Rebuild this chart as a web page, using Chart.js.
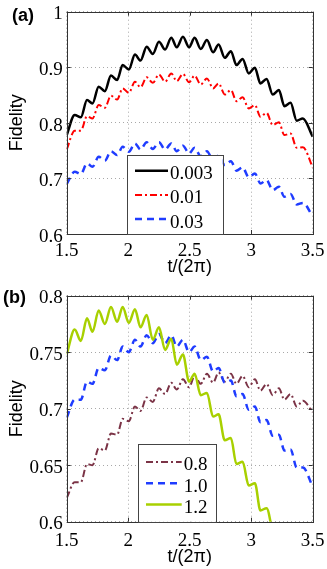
<!DOCTYPE html>
<html>
<head>
<meta charset="utf-8">
<script src="https://cdn.jsdelivr.net/npm/chart.js@4/dist/chart.umd.min.js"></script>
<style>
  html, body { margin: 0; padding: 0; background: #fff; }
  #wrap { position: relative; width: 327px; height: 569px; overflow: hidden; }
  .panel { position: absolute; left: 0; width: 327px; }
  #pa { top: 0; height: 284px; }
  #pb { top: 284px; height: 285px; }
  .tag { position: absolute; font: bold 18px 'Liberation Sans', Arial, sans-serif; line-height: 18px; color: #000; }
</style>
</head>
<body>
<div id="wrap">
  <div class="panel" id="pa"><canvas id="chartA"></canvas></div>
  <div class="panel" id="pb"><canvas id="chartB"></canvas></div>
  <div class="tag" style="left:12px;top:6px">(a)</div>
  <div class="tag" style="left:3px;top:288px">(b)</div>
</div>
<script>
// time axis, t/(2pi): crests and dips of the fast oscillation
const tGrid = [1.5, 1.565, 1.615, 1.665, 1.71, 1.76, 1.81, 1.86, 1.91, 1.955, 2.005,
  2.055, 2.1, 2.15, 2.2, 2.25, 2.3, 2.35, 2.395, 2.445, 2.495,
  2.54, 2.59, 2.64, 2.69, 2.735, 2.785, 2.835, 2.88, 2.93, 2.98,
  3.03, 3.075, 3.125, 3.175, 3.225, 3.27, 3.32, 3.37, 3.42, 3.5];

// panel (a)
const fidA_003 = [0.778, 0.814, 0.810, 0.841, 0.835, 0.865, 0.857, 0.885, 0.877, 0.904, 0.896,
  0.923, 0.912, 0.937, 0.924, 0.946, 0.932, 0.953, 0.936, 0.955, 0.936,
  0.953, 0.933, 0.949, 0.927, 0.941, 0.917, 0.929, 0.904, 0.915, 0.889,
  0.899, 0.871, 0.879, 0.851, 0.859, 0.830, 0.836, 0.804, 0.808, 0.775];
const fidA_001 = [0.752, 0.786, 0.786, 0.812, 0.808, 0.832, 0.827, 0.849, 0.842, 0.862, 0.854,
  0.874, 0.864, 0.882, 0.872, 0.887, 0.874, 0.889, 0.875, 0.888, 0.873,
  0.885, 0.869, 0.880, 0.862, 0.871, 0.851, 0.859, 0.839, 0.846, 0.826,
  0.832, 0.811, 0.818, 0.796, 0.801, 0.778, 0.781, 0.755, 0.756, 0.720];
const fidA_03 = [0.690, 0.712, 0.708, 0.727, 0.721, 0.739, 0.732, 0.749, 0.742, 0.757, 0.748,
  0.763, 0.752, 0.765, 0.753, 0.765, 0.752, 0.763, 0.749, 0.759, 0.745,
  0.755, 0.740, 0.749, 0.733, 0.741, 0.724, 0.731, 0.714, 0.720, 0.702,
  0.709, 0.691, 0.697, 0.679, 0.685, 0.667, 0.672, 0.653, 0.656, 0.632];

// panel (b)
const fidB_08 = [0.621, 0.635, 0.635, 0.651, 0.650, 0.665, 0.663, 0.678, 0.677, 0.691, 0.689,
  0.702, 0.698, 0.710, 0.706, 0.718, 0.713, 0.723, 0.717, 0.726, 0.719,
  0.729, 0.722, 0.731, 0.723, 0.732, 0.724, 0.731, 0.722, 0.729, 0.719,
  0.726, 0.716, 0.722, 0.712, 0.718, 0.708, 0.713, 0.702, 0.707, 0.697];
const fidB_10 = [0.692, 0.708, 0.708, 0.724, 0.722, 0.736, 0.734, 0.747, 0.743, 0.755, 0.750,
  0.761, 0.755, 0.765, 0.758, 0.766, 0.758, 0.765, 0.755, 0.761, 0.750,
  0.755, 0.743, 0.746, 0.733, 0.736, 0.723, 0.725, 0.711, 0.713, 0.699,
  0.702, 0.688, 0.690, 0.676, 0.677, 0.663, 0.664, 0.648, 0.648, 0.631];
const fidB_12 = [0.748, 0.770, 0.760, 0.780, 0.768, 0.787, 0.775, 0.790, 0.777, 0.790, 0.776,
  0.788, 0.772, 0.783, 0.761, 0.772, 0.752, 0.762, 0.739, 0.748, 0.724,
  0.731, 0.712, 0.714, 0.693, 0.695, 0.672, 0.674, 0.651, 0.653, 0.632,
  0.634, 0.610, 0.612, 0.590];

const xTicks = [1.5, 2, 2.5, 3, 3.5];
const xTickLabels = ['1.5', '2', '2.5', '3', '3.5'];
const yTicksA = [0.6, 0.7, 0.8, 0.9, 1.0];
const yTickLabelsA = ['0.6', '0.7', '0.8', '0.9', '1'];
const yTicksB = [0.6, 0.65, 0.7, 0.75, 0.8];
const yTickLabelsB = ['0.6', '0.65', '0.7', '0.75', '0.8'];

const pts = vals => vals.map((v, i) => ({ x: tGrid[i], y: v }));

const serif = "'Liberation Serif'";
const sans = "'Liberation Sans'";
Chart.defaults.font.family = serif;
Chart.defaults.color = '#000';

// MATLAB style box with inward ticks
const framePlugin = {
    id: 'frame',
    afterDatasetsDraw(chart) {
        const { ctx, chartArea: a, scales: { x, y } } = chart;
        ctx.save();
        ctx.strokeStyle = '#333';
        ctx.lineWidth = 1;
        ctx.beginPath();
        x.ticks.forEach(t => {
            const px = Math.round(x.getPixelForValue(t.value)) + 0.5;
            ctx.moveTo(px, a.bottom); ctx.lineTo(px, a.bottom - 4);
            ctx.moveTo(px, a.top); ctx.lineTo(px, a.top + 4);
        });
        y.ticks.forEach(t => {
            const py = Math.round(y.getPixelForValue(t.value)) + 0.5;
            ctx.moveTo(a.left, py); ctx.lineTo(a.left + 4, py);
            ctx.moveTo(a.right, py); ctx.lineTo(a.right - 4, py);
        });
        ctx.stroke();
        ctx.strokeRect(Math.round(a.left) + 0.5, Math.round(a.top) + 0.5,
            Math.round(a.width), Math.round(a.height));
        ctx.restore();
    }
};

// legend box drawn inside the axes
const boxLegend = {
    id: 'boxLegend',
    afterDraw(chart, args, o) {
        const ctx = chart.ctx;
        ctx.save();
        ctx.fillStyle = '#fff';
        ctx.fillRect(o.left, o.top, o.width, o.height);
        ctx.strokeStyle = '#444';
        ctx.lineWidth = 1;
        ctx.strokeRect(Math.round(o.left) + 0.5, Math.round(o.top) + 0.5, Math.round(o.width), Math.round(o.height));
        ctx.font = '19px ' + serif;
        ctx.textBaseline = 'middle';
        chart.data.datasets.forEach((ds, i) => {
            const yy = o.top + o.firstRow + i * o.rowGap;
            ctx.strokeStyle = ds.borderColor;
            ctx.lineWidth = ds.borderWidth;
            ctx.setLineDash(ds.borderDash || []);
            ctx.beginPath();
            ctx.moveTo(o.left + o.sampleX, yy);
            ctx.lineTo(o.left + o.sampleX + o.sampleLen, yy);
            ctx.stroke();
            ctx.setLineDash([]);
            ctx.fillStyle = '#000';
            ctx.fillText(ds.label, o.left + o.sampleX + o.sampleLen + 2, yy + 3.5);
        });
        ctx.restore();
    }
};

function makeScales(yMin, yMax, yTicks, yLabels, xLabelPad, xAxisH, xTitlePad) {
    return {
        x: {
            type: 'linear', min: 1.5, max: 3.5,
            afterBuildTicks: s => { s.ticks = xTicks.map(v => ({ value: v })); },
            afterFit: s => { s.height = xAxisH; s.paddingLeft = 0; s.paddingRight = 0; },
            grid: { color: '#a8a8a8', lineWidth: 1, drawTicks: false },
            border: { display: false, dash: [1, 3] },
            ticks: {
                padding: xLabelPad, maxRotation: 0, autoSkip: false,
                font: { family: serif, size: 19 },
                callback: (v, i) => xTickLabels[i]
            },
            title: {
                display: true, text: 't/(2\u03c0)',
                font: { family: sans, size: 18 },
                padding: { top: 0, bottom: xTitlePad }
            }
        },
        y: {
            type: 'linear', min: yMin, max: yMax,
            afterBuildTicks: s => { s.ticks = yTicks.map(v => ({ value: v })); },
            afterFit: s => { s.width = 66.7; s.paddingTop = 0; s.paddingBottom = 0; },
            grid: { color: '#a8a8a8', lineWidth: 1, drawTicks: false },
            border: { display: false, dash: [1, 3] },
            ticks: {
                padding: 4, autoSkip: false, labelOffset: 2.8,
                font: { family: serif, size: 19 },
                callback: (v, i) => yLabels[i]
            },
            title: {
                display: true, text: 'Fidelity',
                font: { family: sans, size: 18 },
                padding: { top: 6, bottom: 0 }
            }
        }
    };
}

function baseOptions(scales, legendOpts) {
    return {
        responsive: true,
        maintainAspectRatio: false,
        animation: false,
        devicePixelRatio: 1,
        layout: { padding: { left: 0, right: 14.3, top: 11.7, bottom: 0 } },
        elements: { point: { radius: 0 }, line: { cubicInterpolationMode: 'monotone' } },
        scales: scales,
        plugins: {
            legend: { display: false },
            tooltip: { enabled: false },
            boxLegend: legendOpts
        }
    };
}

new Chart(document.getElementById('chartA'), {
    type: 'line',
    data: {
        datasets: [
            { label: '0.003', data: pts(fidA_003), borderColor: '#000000', borderWidth: 2.5 },
            { label: '0.01', data: pts(fidA_001), borderColor: '#ff0000', borderWidth: 2, borderDash: [7, 3, 2, 3] },
            { label: '0.03', data: pts(fidA_03), borderColor: '#1f3cff', borderWidth: 2.5, borderDash: [7, 5] }
        ]
    },
    options: baseOptions(
        makeScales(0.6, 1.0, yTicksA, yTickLabelsA, 5.5, 50, 6.2),
        { left: 126.7, top: 155, width: 96, height: 79, firstRow: 15.7, rowGap: 24.2, sampleX: 8.3, sampleLen: 33 }
    ),
    plugins: [framePlugin, boxLegend]
});

new Chart(document.getElementById('chartB'), {
    type: 'line',
    data: {
        datasets: [
            { label: '0.8', data: pts(fidB_08), borderColor: '#7b3346', borderWidth: 2, borderDash: [7, 3, 2, 3], order: 3 },
            { label: '1.0', data: pts(fidB_10), borderColor: '#1f3cff', borderWidth: 2.5, borderDash: [7, 5], order: 2 },
            { label: '1.2', data: pts(fidB_12), borderColor: '#a8d000', borderWidth: 2.5, order: 1 }
        ]
    },
    options: baseOptions(
        makeScales(0.6, 0.8, yTicksB, yTickLabelsB, 7.6, 47.3, 0.9),
        { left: 138.3, top: 160, width: 77.7, height: 77.7, firstRow: 18, rowGap: 21.2, sampleX: 7.7, sampleLen: 35.7 }
    ),
    plugins: [framePlugin, boxLegend]
});
</script>
</body>
</html>
